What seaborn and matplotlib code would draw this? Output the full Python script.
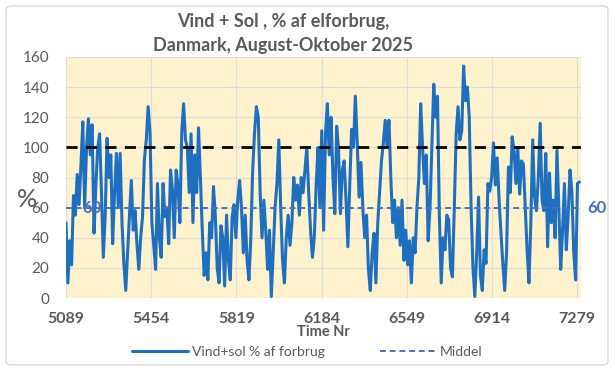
import matplotlib.pyplot as plt
import seaborn as sns
import pandas as pd
import numpy as np
from matplotlib.patches import FancyBboxPatch

# Hour numbers (8-hour steps) and wind+solar share of consumption
START_HOUR = 5089
STEP = 8
vind_sol = [
    50, 10, 38, 22, 68, 55, 82, 62, 88, 117,
    60, 100, 119, 95, 115, 43, 75, 100, 109, 70,
    27, 55, 106, 80, 95, 36, 70, 96, 60, 96,
    50, 23, 5, 30, 55, 78, 45, 58, 36, 19,
    40, 54, 92, 105, 127, 110, 50, 35, 19, 76,
    40, 27, 76, 54, 60, 36, 85, 72, 40, 85,
    75, 50, 110, 129, 105, 100, 70, 109, 50, 95,
    70, 113, 80, 45, 15, 30, 12, 50, 40, 74,
    55, 20, 10, 48, 40, 8, 55, 25, 12, 54,
    62, 40, 65, 78, 60, 30, 55, 25, 12, 40,
    85, 110, 127, 120, 70, 40, 65, 45, 19, 45,
    1, 30, 60, 76, 105, 60, 25, 10, 40, 55,
    35, 50, 80, 65, 75, 55, 80, 70, 85, 100,
    70, 45, 27, 40, 75, 100, 60, 111, 45, 109,
    129, 95, 120, 80, 56, 114, 98, 56, 85, 91,
    65, 34, 75, 112, 100, 134, 103, 67, 90, 60,
    40, 55, 19, 5, 30, 43, 10, 50, 71, 91,
    103, 118, 100, 118, 80, 50, 65, 40, 60, 35,
    65, 25, 45, 22, 38, 10, 40, 30, 60, 80,
    129, 100, 76, 95, 38, 60, 100, 142, 120, 134,
    55, 10, 40, 32, 55, 52, 20, 14, 60, 109,
    127, 105, 111, 154, 131, 140, 120, 60, 20, 1,
    30, 67, 15, 5, 32, 23, 76, 71, 80, 103,
    75, 93, 65, 43, 23, 5, 30, 87, 70, 107,
    98, 76, 100, 69, 91, 89, 60, 32, 10, 50,
    105, 67, 58, 80, 116, 65, 58, 96, 34, 83,
    50, 65, 40, 98, 60, 19, 45, 76, 32, 55,
    85, 70, 30, 12, 76, 77,
]
MIDDEL = 60
GRAENSE = 100
x_ticks = [5089, 5454, 5819, 6184, 6549, 6914, 7279]
y_ticks = [0, 20, 40, 60, 80, 100, 120, 140, 160]

hours = START_HOUR + STEP * np.arange(len(vind_sol))
df = pd.DataFrame({"Time Nr": hours, "Vind+sol % af forbrug": vind_sol})

sns.set_style("white")
plt.rcParams["font.family"] = ["Lato", "DejaVu Sans"]
GREY = "#595959"

fig = plt.figure(figsize=(6.15, 3.71), dpi=100)
ax = fig.add_axes([66 / 615, 1 - 298 / 371, 515 / 615, 241 / 371])

# chart area border
fig.patches.append(FancyBboxPatch((6 / 615, 6 / 371), 602 / 615, 359 / 371,
                                  boxstyle="round,pad=0,rounding_size=0.01",
                                  transform=fig.transFigure, fc="none",
                                  ec="#D9D9D9", lw=1))

ax.set_facecolor("#FFF2CC")
for s in ax.spines.values():
    s.set_visible(False)
ax.grid(True, color="#DDDDDD", lw=0.8)
ax.set_axisbelow(True)

sns.lineplot(data=df, x="Time Nr", y="Vind+sol % af forbrug", ax=ax,
             color="#1F6FC0", lw=2.2, label="Vind+sol % af forbrug", legend=False)
ax.axhline(GRAENSE, color="black", lw=2, ls=(0, (4, 3)), zorder=3)
ax.axhline(MIDDEL, color="#4472C4", lw=1.4, ls=(0, (3, 2)), label="Middel", zorder=3)

ax.set_xlim(5089, 7296)
ax.set_ylim(0, 160)
ax.set_xticks(x_ticks)
ax.set_yticks(y_ticks)
ax.tick_params(length=0)
ax.tick_params(axis="y", labelsize=11, labelcolor=GREY, pad=12)
ax.tick_params(axis="x", labelsize=11.5, labelcolor=GREY, pad=10)
for t in ax.get_xticklabels():
    t.set_fontweight("bold")

ax.set_xlabel("Time Nr", fontsize=10.5, fontweight="bold", color=GREY, labelpad=-1)
ax.set_ylabel("")
fig.text(27 / 615, 1 - 200 / 371, "%", fontsize=18, color=GREY, ha="center", va="center")

# mean data labels
ax.text(0.05, MIDDEL, str(MIDDEL), transform=ax.get_yaxis_transform(),
        color="#4472C4", fontsize=12, fontweight="bold", ha="center", va="center")
ax.text(1.03, MIDDEL, str(MIDDEL), transform=ax.get_yaxis_transform(),
        color="#4472C4", fontsize=12, fontweight="bold", ha="center", va="center")

fig.text(283 / 615, 1 - 21 / 371, "Vind + Sol , % af elforbrug,", fontsize=13,
         fontweight="bold", color=GREY, ha="center", va="center")
fig.text(283 / 615, 1 - 46 / 371, "Danmark, August-Oktober 2025", fontsize=13,
         fontweight="bold", color=GREY, ha="center", va="center")

h, l = ax.get_legend_handles_labels()
fig.legend(h, l, loc="center", bbox_to_anchor=(0.5, 1 - 352 / 371), ncol=2,
           frameon=False, fontsize=10, handlelength=4, columnspacing=4,
           labelcolor=GREY, handletextpad=0.3)

fig.savefig("out.png", dpi=100)
